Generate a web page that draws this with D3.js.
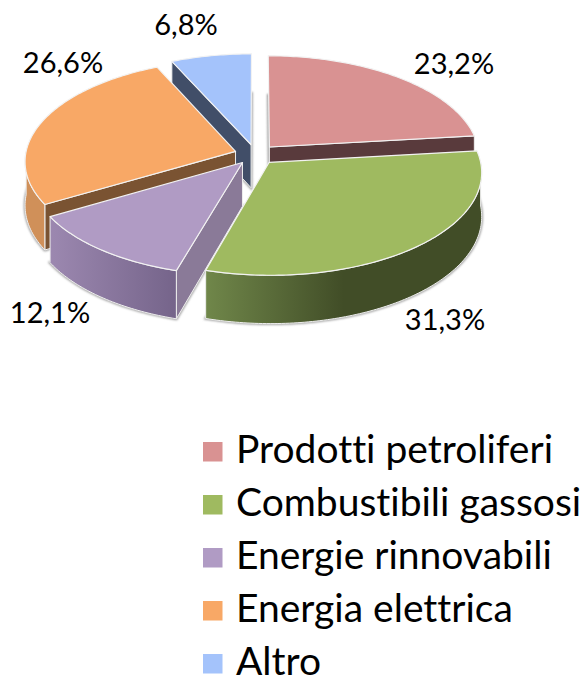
<!DOCTYPE html>
<html>
<head>
<meta charset="utf-8">
<script src="https://cdnjs.cloudflare.com/ajax/libs/d3/7.8.5/d3.min.js"></script>
<style>
	html, body { margin: 0; padding: 0; background: #fff; }
	svg { display: block; }
	text { font-family: Lato, "Open Sans", sans-serif; fill: #000; font-variant-ligatures: none; }
</style>
</head>
<body>
<div id="chart"></div>
<script>
	'use strict';
	// values
	var categories = ['Prodotti petroliferi', 'Combustibili gassosi', 'Energie rinnovabili', 'Energia elettrica', 'Altro'];
	var shares = [23.2, 31.3, 12.1, 26.6, 6.8];
	var shareLabels = ['23,2%', '31,3%', '12,1%', '26,6%', '6,8%'];

	// styles
	var topColors = ['#D99292', '#9FBA60', '#B09BC4', '#F8A866', '#A4C3FB'];
	var wallColors = ['#593A3C', '#414D27', '#8A7A98', '#7A5332', '#414E68'];
	var sideFrom = ['#8A5C5C', '#70874A', '#9C88B0', '#D09059', '#6A80A8'];
	var sideTo = ['#593A3C', '#414D27', '#75648A', '#D09059', '#414E68'];
	// layout: centre x, baseline y of each value label
	var labelX = [454, 445, 50, 63, 186];
	var labelY = [74, 330, 323, 73, 35];

	var width = 587, height = 677;
	var centerX = 255.5, centerY = 154.5, radiusX = 210, radiusY = 101;
	var depth = 43.5, perspective = 0.0927, explode = 0.1;

	var x = d3.scaleLinear().domain([-1, 1]).range([centerX - radiusX, centerX + radiusX]);
	var y = d3.scaleLinear().domain([-1, 1]).range([centerY - radiusY, centerY + radiusY]);

	var svg = d3.select('#chart').append('svg')
		.attr('width', width)
		.attr('height', height);

	var defs = svg.append('defs');
	defs.append('filter').attr('id', 'soft')
		.attr('x', '-10%').attr('y', '-10%').attr('width', '120%').attr('height', '120%')
		.append('feGaussianBlur').attr('stdDeviation', 0.8);

	var slices = d3.pie().sort(null).startAngle(0).endAngle(2 * Math.PI)(shares);

	// a point of the pie plane, z going down, to the screen
	function project(px, py, z) {
		var s = 1 / (1 - perspective * py);
		return [x(px * s), y(py * s) + z * s];
	}

	function rimPoint(d, angle, z) {
		var mid = (d.startAngle + d.endAngle) / 2;
		return project(Math.sin(angle) + explode * Math.sin(mid), -Math.cos(angle) - explode * Math.cos(mid), z);
	}

	function apexPoint(d, z) {
		var mid = (d.startAngle + d.endAngle) / 2;
		return project(explode * Math.sin(mid), -explode * Math.cos(mid), z);
	}

	function arcPoints(d, from, to, z) {
		var n = Math.max(2, Math.ceil((to - from) * 60));
		return d3.range(n + 1).map(function (i) {
			return rimPoint(d, from + (to - from) * i / n, z);
		});
	}

	var line = d3.line();

	function facePath(d, z) {
		return line([apexPoint(d, z)].concat(arcPoints(d, d.startAngle, d.endAngle, z))) + 'Z';
	}

	function wallPath(d, angle) {
		return line([apexPoint(d, 0), rimPoint(d, angle, 0), rimPoint(d, angle, depth), apexPoint(d, depth)]) + 'Z';
	}

	// painter's order: back slices first
	var order = [0, 4, 3, 2, 1];

	order.forEach(function (i) {
		var d = slices[i];
		var g = svg.append('g');

		// soft outline under the base
		g.append('path')
			.attr('d', facePath(d, depth))
			.attr('fill', 'none')
			.attr('stroke', '#9a9a9a')
			.attr('stroke-width', 2.5)
			.attr('filter', 'url(#soft)');

		// cut faces, only those turned to the viewer
		if (Math.sin(d.startAngle) < 0) {
			g.append('path').attr('d', wallPath(d, d.startAngle))
				.attr('fill', wallColors[i]).attr('stroke', '#eee').attr('stroke-width', 1);
		}
		if (Math.sin(d.endAngle) > 0) {
			g.append('path').attr('d', wallPath(d, d.endAngle))
				.attr('fill', wallColors[i]).attr('stroke', '#eee').attr('stroke-width', 1);
		}

		// outer rim, front half only
		var from = Math.max(d.startAngle, Math.PI / 2);
		var to = Math.min(d.endAngle, Math.PI * 1.5);
		if (to > from) {
			var grad = defs.append('linearGradient').attr('id', 'side' + i);
			grad.append('stop').attr('offset', '0%').attr('stop-color', sideFrom[i]);
			grad.append('stop').attr('offset', i === 1 ? '50%' : '100%').attr('stop-color', sideTo[i]);
			g.append('path')
				.attr('d', line(arcPoints(d, from, to, 0).concat(arcPoints(d, from, to, depth).reverse())) + 'Z')
				.attr('fill', 'url(#side' + i + ')')
				.attr('stroke', '#eee')
				.attr('stroke-width', 1);
		}

		g.append('path')
			.attr('d', facePath(d, 0))
			.attr('fill', topColors[i])
			.attr('stroke', '#f2f2f2')
			.attr('stroke-width', 1.2)
			.attr('stroke-linejoin', 'round');
	});

	svg.append('g').selectAll('text')
		.data(shareLabels)
		.join('text')
		.attr('x', function (d, i) { return labelX[i]; })
		.attr('y', function (d, i) { return labelY[i]; })
		.attr('text-anchor', 'middle')
		.style('font-size', '29px')
		.text(function (d) { return d; });

	// legend
	var legendY = d3.scalePoint().domain(categories).range([442, 654]);

	var legend = svg.append('g').selectAll('g')
		.data(categories)
		.join('g')
		.attr('transform', function (d) { return 'translate(203,' + legendY(d) + ')'; });

	legend.append('rect')
		.attr('width', 19.5)
		.attr('height', 19.5)
		.attr('fill', function (d, i) { return topColors[i]; });

	legend.append('text')
		.attr('x', 33)
		.attr('y', 21)
		.style('font-size', '39px')
		.text(function (d) { return d; });
</script>
</body>
</html>
